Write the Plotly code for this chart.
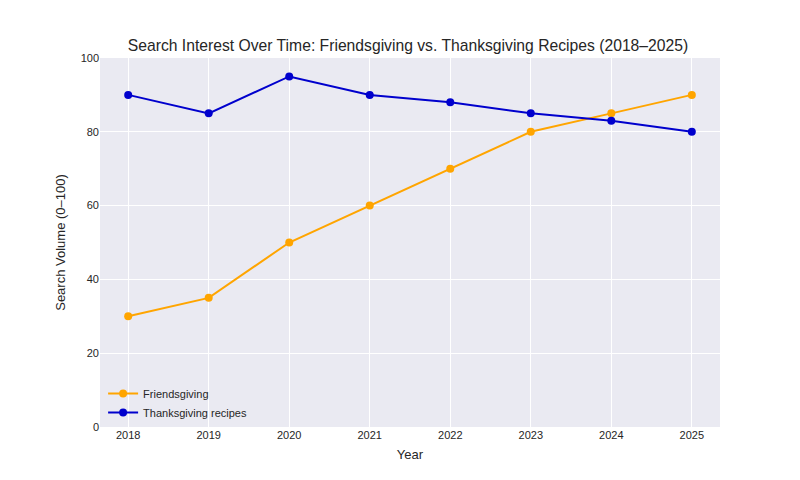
import plotly.graph_objects as go

years = [2018, 2019, 2020, 2021, 2022, 2023, 2024, 2025]
friendsgiving = [30, 35, 50, 60, 70, 80, 85, 90]
thanksgiving = [90, 85, 95, 90, 88, 85, 83, 80]
y_ticks = [0, 20, 40, 60, 80, 100]

fig = go.Figure()
fig.add_trace(go.Scatter(x=years, y=friendsgiving, mode="lines+markers", name="Friendsgiving",
                         line=dict(color="#FFA500", width=2), marker=dict(size=8, color="#FFA500")))
fig.add_trace(go.Scatter(x=years, y=thanksgiving, mode="lines+markers", name="Thanksgiving recipes",
                         line=dict(color="#0000CD", width=2), marker=dict(size=8, color="#0000CD")))

fig.update_layout(
    width=800, height=480,
    paper_bgcolor="white", plot_bgcolor="#EAEAF2",
    font=dict(family="Liberation Sans, Arial, sans-serif", color="#262626"),
    margin=dict(l=92, r=88, t=50, b=61),
    title=dict(text="Search Interest Over Time: Friendsgiving vs. Thanksgiving Recipes (2018–2025)",
               x=0.5, xanchor="center", y=0.921, yanchor="middle", font=dict(size=15.7, color="#262626")),
    xaxis=dict(range=[2017.65, 2025.35], tickvals=years, ticktext=[str(y) for y in years],
               showgrid=True, gridcolor="white", gridwidth=1, zeroline=False, showline=False,
               ticks="", tickfont=dict(size=11, color="#262626"),
               title=dict(text="Year", font=dict(size=13), standoff=9)),
    yaxis=dict(range=[0, 100], tickvals=y_ticks,
               showgrid=True, gridcolor="white", gridwidth=1, zeroline=False, showline=False,
               ticks="", tickfont=dict(size=11, color="#262626"),
               title=dict(text="Search Volume (0–100)", font=dict(size=13), standoff=12)),
    legend=dict(x=0.005, y=0.0, xanchor="left", yanchor="bottom", bgcolor="rgba(0,0,0,0)",
                font=dict(size=11, color="#262626"), tracegroupgap=0, itemwidth=30),
    showlegend=True,
)

fig.write_html("out.html")
